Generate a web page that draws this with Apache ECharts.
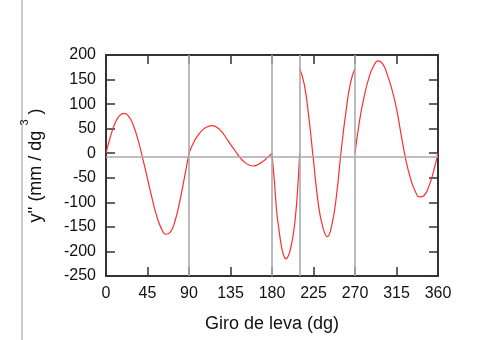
<!DOCTYPE html>
<html><head><meta charset="utf-8">
<script src="https://cdn.jsdelivr.net/npm/echarts@6/dist/echarts.min.js"></script>
<style>html,body{margin:0;padding:0;background:#fff}#c{width:501px;height:340px}</style>
</head><body><div id="c"></div>
<script>
// Segment 0-90
const angA = [0,5,10,15,20,25,30,35,40,45,50,55,60,65,70,75,80,85,90];
const valA = [0,35,62,77,81,74,55,25,-12,-52,-92,-128,-153,-165,-160,-137,-98,-50,0];
// Segment 90-180
const angB = [90,95,100,105,110,115,120,125,130,135,140,145,150,155,160,165,170,175,180];
const valB = [0,22,37,48,54,56,53,45,32,18,5,-8,-18,-24,-26,-23,-17,-9,0];
// Segment 180-210
const angC = [180,182.5,185,187.5,190,192.5,195,197.5,200,202.5,205,207.5,210];
const valC = [0,-55,-117,-155,-187,-207,-215,-210,-195,-172,-137,-82,0];
// Segment 210-270
const angD = [210,215,220,225,230,235,240,245,250,255,260,265,270];
const valD = [173,140,72,-15,-100,-150,-170,-145,-85,5,82,142,173];
// Segment 270-360
const angE = [270,275,280,285,290,295,300,305,310,315,320,325,330,335,340,345,350,355,360];
const valE = [0,67,116,153,177,188,182,160,130,91,38,-12,-50,-76,-89,-86,-68,-38,0];

const refX = [90,180,210,270];
const refY = [-7];
const xTitle = 'Giro de leva (dg)';
const yTitle = "y'' (mm / dg {s|3} )";

const FONT = 'Liberation Sans, Arial, sans-serif';
const segs = [[angA,valA],[angB,valB],[angC,valC],[angD,valD],[angE,valE]];
const red = '#ff2e2e';
const frame = '#333333';

const series = segs.map(([a,v]) => ({
  type:'line', data:a.map((x,i)=>[x,v[i]]), smooth:0.5, symbol:'none',
  lineStyle:{color:red, width:1.2}, z:3, silent:true
}));
series.push({
  type:'line', data:[], z:1, silent:true,
  markLine:{silent:true, symbol:'none', label:{show:false}, animation:false,
    lineStyle:{color:'#aaaaaa', width:1.6, type:'solid'},
    data:[...refX.map(x=>({xAxis:x})), ...refY.map(y=>({yAxis:y}))]}
});

const axLine = {show:true, onZero:false, lineStyle:{color:frame, width:2}};
const axTick = {show:true, inside:true, length:9, lineStyle:{color:frame, width:1.5}};

const chart = echarts.init(document.getElementById('c'), null, {renderer:'canvas'});
chart.setOption({
  animation:false,
  backgroundColor:'#fff',
  grid:{left:106, right:63, top:55, bottom:64, containLabel:false, outerBoundsMode:'none'},
  graphic:[{type:'line', shape:{x1:22,y1:0,x2:22,y2:340}, style:{stroke:'#bdbdbd', lineWidth:1.5}, silent:true}],
  xAxis:[
    {type:'value', min:0, max:360, interval:45, position:'bottom',
     axisLine:axLine, axisTick:axTick, splitLine:{show:false},
     axisLabel:{color:'#111', fontSize:16, fontFamily:FONT, margin:10},
     name:xTitle, nameLocation:'middle', nameGap:39,
     nameTextStyle:{color:'#111', fontSize:18, fontFamily:FONT}},
    {type:'value', min:0, max:360, interval:45, position:'top',
     axisLine:axLine, axisTick:axTick, splitLine:{show:false}, axisLabel:{show:false}}
  ],
  yAxis:[
    {type:'value', min:-250, max:200, interval:50, position:'left',
     axisLine:axLine, axisTick:axTick, splitLine:{show:false},
     axisLabel:{color:'#111', fontSize:16, fontFamily:FONT, margin:10},
     name:yTitle, nameLocation:'middle', nameGap:53, nameRotate:90,
     nameTextStyle:{color:'#111', fontSize:18, fontFamily:FONT, lineHeight:34,
       rich:{s:{fontSize:11, lineHeight:11, verticalAlign:'top', fontFamily:FONT, color:'#111'}}}},
    {type:'value', min:-250, max:200, interval:50, position:'right',
     axisLine:axLine, axisTick:axTick, splitLine:{show:false}, axisLabel:{show:false}}
  ],
  series:series
});
</script>
</body></html>
